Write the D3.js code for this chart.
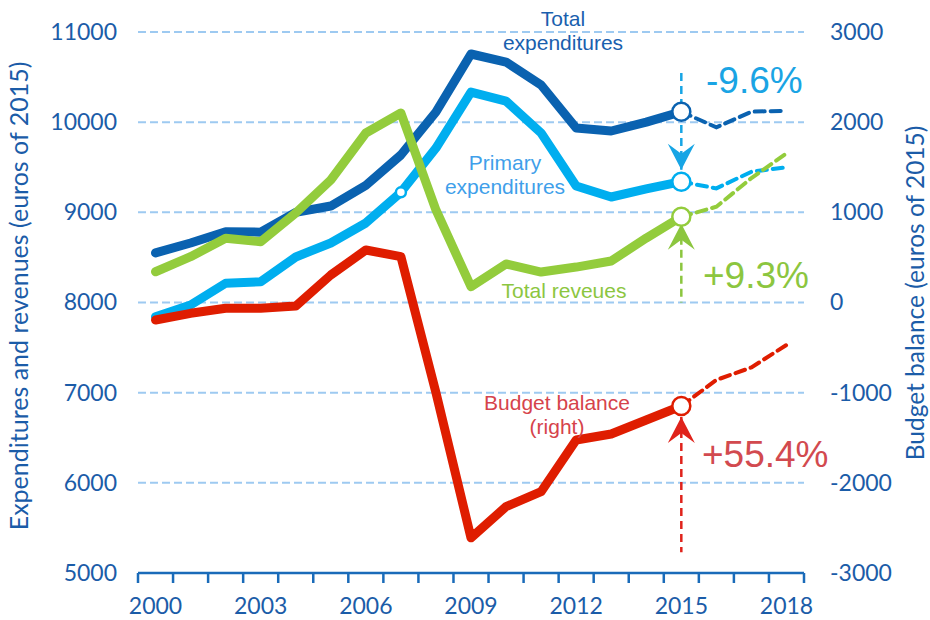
<!DOCTYPE html>
<html>
<head>
<meta charset="utf-8">
<script src="https://cdn.jsdelivr.net/npm/d3@7"></script>
<style>
  body { margin: 0; background: #fff; }
  text { font-family: "Liberation Sans", Arial, sans-serif; }
  .tick text { font-family: Lato, "Liberation Sans", sans-serif; }
</style>
</head>
<body>
<div id="chart"></div>
<script>
// data
var years = [2000, 2001, 2002, 2003, 2004, 2005, 2006, 2007, 2008, 2009,
             2010, 2011, 2012, 2013, 2014, 2015, 2016, 2017, 2018];
var totalExp   = [8550, 8660, 8785, 8780, 9000, 9070, 9300, 9636, 10113, 10756,
                  10667, 10412, 9935, 9902, 10000, 10116, 9943, 10116, 10127];
var primaryExp = [7842, 7972, 8213, 8230, 8505, 8660, 8882, 9222, 9713, 10334,
                  10234, 9880, 9292, 9170, 9259, 9340, 9266, 9450, 9500];
var totalRev   = [8341, 8508, 8712, 8674, 8992, 9358, 9880, 10102, 9026, 8175,
                  8427, 8338, 8393, 8460, 8715, 8951, 9062, 9380, 9654];
var budgetBal  = [-194, -120, -64, -64, -39, 305, 582, 508, -1000, -2610,
                  -2264, -2098, -1525, -1458, -1303, -1148, -859, -720, -471];
var yearLabels = [2000, 2003, 2006, 2009, 2012, 2015, 2018];
var leftTicks  = [5000, 6000, 7000, 8000, 9000, 10000, 11000];
var rightTicks = [-3000, -2000, -1000, 0, 1000, 2000, 3000];
var lastActual = 2015;

var W = 930, H = 620;
var svg = d3.select("#chart").append("svg")
    .attr("width", W)
    .attr("height", H);

var x = d3.scaleBand().domain(years).range([138, 804]);
var cx = function(yr) { return x(yr) + x.bandwidth() / 2; };
var yL = d3.scaleLinear().domain([5000, 11000]).range([573, 32]);
var yR = d3.scaleLinear().domain([-3000, 3000]).range([573, 32]);

var axisCol = "#1b5ca8";

// gridlines
svg.append("g").selectAll("line")
    .data(leftTicks.slice(1))
    .enter().append("line")
    .attr("x1", 138).attr("x2", 804)
    .attr("y1", function(d) { return yL(d); })
    .attr("y2", function(d) { return yL(d); })
    .attr("stroke", "#9ecaf1")
    .attr("stroke-width", 2)
    .attr("stroke-dasharray", "8,4");

// x axis line and ticks between categories
svg.append("line")
    .attr("x1", 138).attr("x2", 804)
    .attr("y1", 573).attr("y2", 573)
    .attr("stroke", "#1a6bb9").attr("stroke-width", 2.5);
var edges = years.map(function(d) { return x(d); }).concat([x(2018) + x.bandwidth()]);
svg.append("g").selectAll("line")
    .data(edges)
    .enter().append("line")
    .attr("x1", function(d) { return d; })
    .attr("x2", function(d) { return d; })
    .attr("y1", 573).attr("y2", 583)
    .attr("stroke", "#1a6bb9").attr("stroke-width", 2.5);

// axes (labels only)
var plain = function(d) { return String(d); };
var gx = svg.append("g")
    .attr("transform", "translate(0,573)")
    .call(d3.axisBottom(x).tickValues(yearLabels).tickSize(0).tickPadding(25));
var gl = svg.append("g")
    .attr("transform", "translate(138,0)")
    .call(d3.axisLeft(yL).tickValues(leftTicks).tickSize(0).tickPadding(21)
        .tickFormat(plain));
var gr = svg.append("g")
    .attr("transform", "translate(804,0)")
    .call(d3.axisRight(yR).tickValues(rightTicks).tickSize(0).tickPadding(26)
        .tickFormat(plain));
[gx, gl, gr].forEach(function(g) {
    g.select(".domain").remove();
    g.selectAll("text").attr("fill", axisCol).style("font-size", "23px");
});

// axis titles
svg.append("text")
    .attr("transform", "translate(28,296) rotate(-90)")
    .attr("text-anchor", "middle")
    .style("font-family", "Lato, sans-serif")
    .style("font-size", "25px")
    .attr("fill", axisCol)
    .text("Expenditures and revenues (euros of 2015)");
svg.append("text")
    .attr("transform", "translate(924,293) rotate(-90)")
    .attr("text-anchor", "middle")
    .style("font-family", "Lato, sans-serif")
    .style("font-size", "24.5px")
    .attr("fill", axisCol)
    .text("Budget balance (euros of 2015)");

// series
var series = [
    { name: "primary", values: primaryExp, scale: yL, color: "#00aeef" },
    { name: "total",   values: totalExp,   scale: yL, color: "#0a62b0" },
    { name: "revenue", values: totalRev,   scale: yL, color: "#93cc3c" },
    { name: "balance", values: budgetBal,  scale: yR, color: "#df1d00" }
];

series.forEach(function(s) {
    var pts = years.map(function(yr, i) { return { year: yr, v: s.values[i] }; });
    var line = d3.line()
        .x(function(d) { return cx(d.year); })
        .y(function(d) { return s.scale(d.v); });
    svg.append("path")
        .datum(pts.filter(function(d) { return d.year <= lastActual; }))
        .attr("d", line)
        .attr("fill", "none")
        .attr("stroke", s.color)
        .attr("stroke-width", 9)
        .attr("stroke-linejoin", "round")
        .attr("stroke-linecap", "round");
    svg.append("path")
        .datum(pts.filter(function(d) { return d.year >= lastActual; }))
        .attr("d", line)
        .attr("fill", "none")
        .attr("stroke", s.color)
        .attr("stroke-width", 4)
        .attr("stroke-dasharray", "10,6")
        .attr("stroke-linecap", "round");
});

// arrows at 2015
var ax = cx(lastActual);
function arrow(top, bottom, tipDown, color) {
    svg.append("line")
        .attr("x1", ax).attr("x2", ax)
        .attr("y1", top).attr("y2", bottom)
        .attr("stroke", color)
        .attr("stroke-width", 2.5)
        .attr("stroke-dasharray", "8,5");
    var ty = tipDown ? bottom : top;
    var d = tipDown ? 1 : -1;
    svg.append("path")
        .attr("d", "M" + (ax - 13.5) + "," + (ty - d * 26) +
                   "L" + ax + "," + ty +
                   "L" + (ax + 13.5) + "," + (ty - d * 26) +
                   "L" + ax + "," + (ty - d * 16) + "Z")
        .attr("fill", color);
}
var i15 = years.indexOf(lastActual);
arrow(yL(10545), yL(primaryExp[i15]) - 12, true, "#17a5e5");
arrow(yL(totalRev[i15]) + 7, yL(8000), false, "#8cc63f");
arrow(yR(budgetBal[i15]) + 11, yR(-2770), false, "#e0231b");

// circles
series.forEach(function(s) {
    svg.append("circle")
        .attr("cx", ax)
        .attr("cy", s.scale(s.values[i15]))
        .attr("r", 9)
        .attr("fill", "#fff")
        .attr("stroke", s.color)
        .attr("stroke-width", 2.5);
});
var i07 = years.indexOf(2007);
svg.append("circle")
    .attr("cx", cx(2007))
    .attr("cy", yL(primaryExp[i07]))
    .attr("r", 5)
    .attr("fill", "#fff")
    .attr("stroke", "#00aeef")
    .attr("stroke-width", 2.5);

// labels
function label(lines, xp, yp, color, size) {
    var t = svg.append("text")
        .attr("x", xp).attr("y", yp)
        .attr("text-anchor", "middle")
        .attr("fill", color)
        .style("font-size", size + "px");
    lines.forEach(function(l, k) {
        t.append("tspan").attr("x", xp).attr("dy", k === 0 ? 0 : "1.15em").text(l);
    });
}
label(["Total", "expenditures"], 563, 26, "#1a5fae", 21);
label(["Primary", "expenditures"], 505, 170, "#3f9fea", 21);
label(["Total reveues"], 564, 298, "#8cc63f", 21);
label(["Budget balance", "(right)"], 557, 410, "#d6434b", 21);

function pct(txt, xp, yp, color) {
    svg.append("text")
        .attr("x", xp).attr("y", yp)
        .attr("fill", color)
        .style("font-size", "37px")
        .text(txt);
}
pct("-9.6%", 706, 93, "#1aa4e4");
pct("+9.3%", 703, 288, "#8cc63f");
pct("+55.4%", 702, 467, "#d24a4f");
</script>
</body>
</html>
